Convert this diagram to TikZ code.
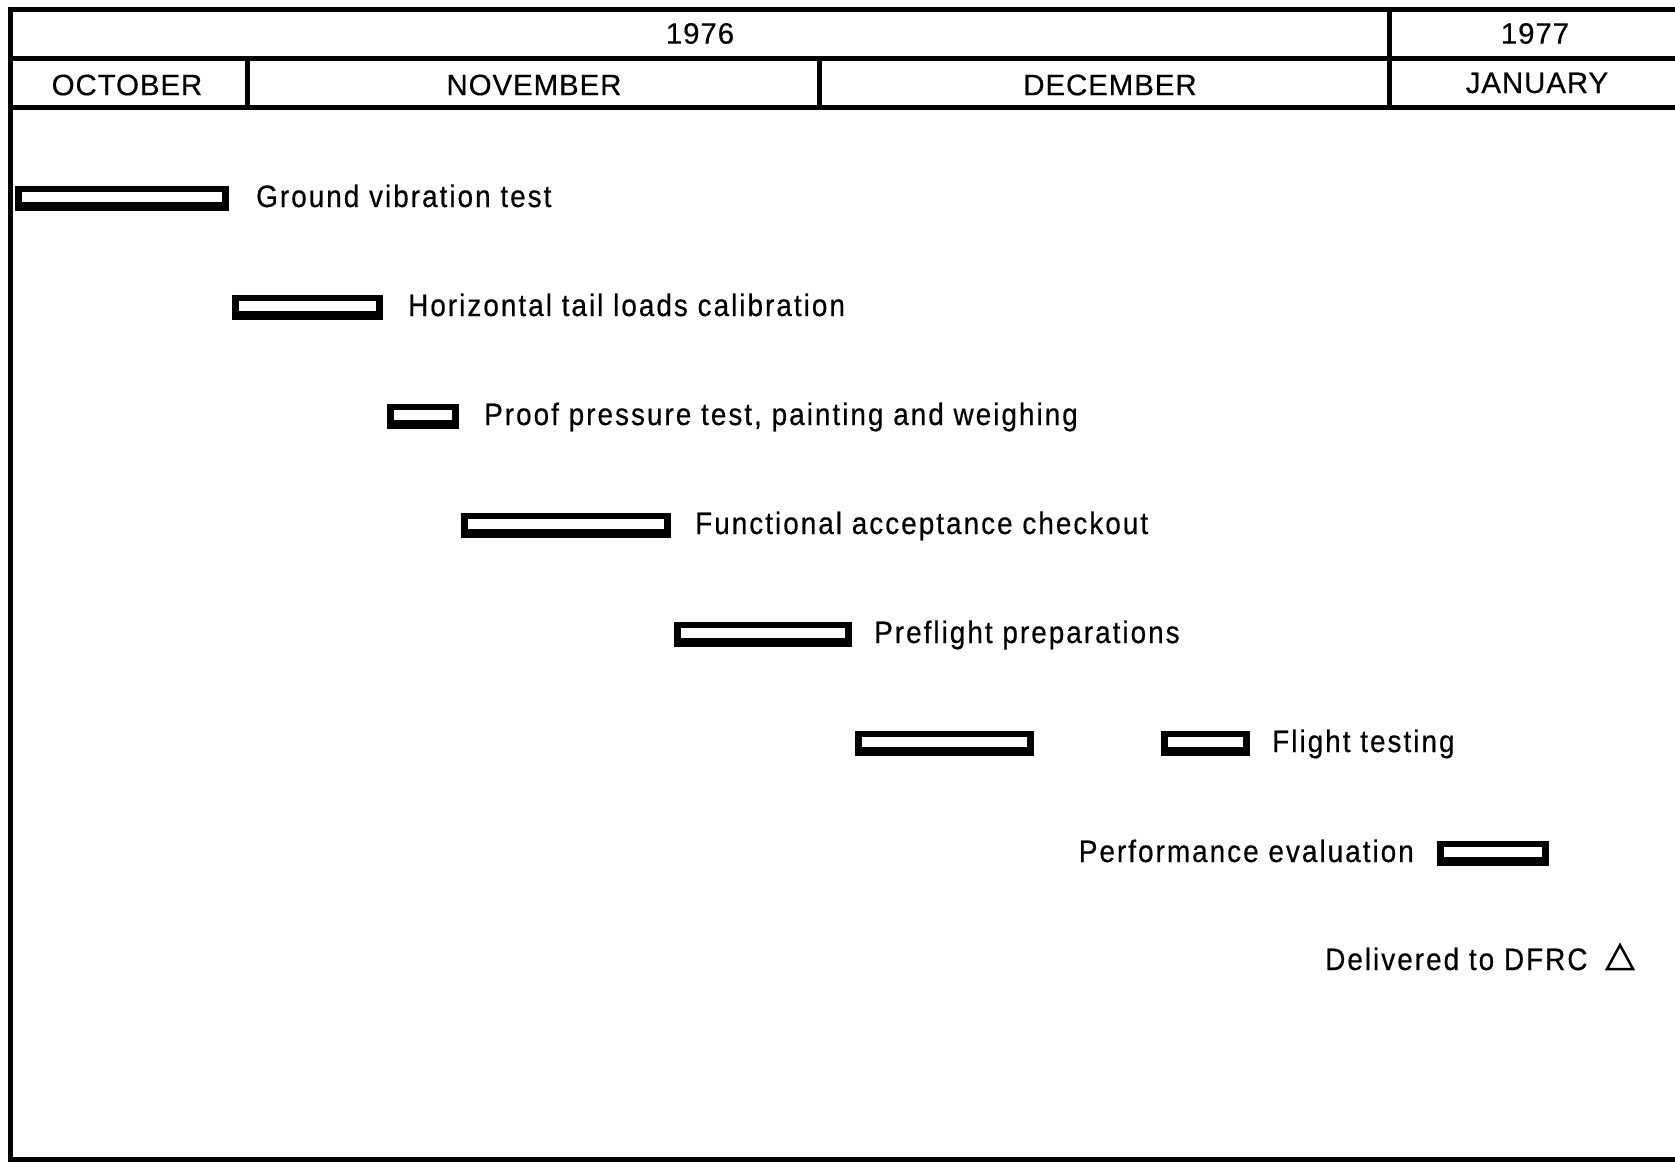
\documentclass[tikz,border=0pt]{standalone}
\usepackage{fontspec}
\setmainfont{Liberation Sans}
\newfontfamily\lblfont[LetterSpace=6.5,FakeStretch=0.9,FakeBold=0.5]{Liberation Sans}
\newfontfamily\hdrfont[LetterSpace=3,FakeBold=0.4]{Liberation Sans}
\begin{document}
\begin{tikzpicture}[x=1pt,y=-1pt,
  frame/.style={line width=5pt},
  hdr/.style={font=\hdrfont\fontsize{29.5}{36}\selectfont, inner sep=0pt},
  lbl/.style={font=\lblfont\fontsize{31}{37}\selectfont, inner sep=0pt},
  bar/.style={fill=black, inner sep=0pt, minimum height=25pt,
    path picture={\fill[white] ([xshift=7pt,yshift=9pt]path picture bounding box.south west) rectangle ([xshift=-7pt,yshift=-6pt]path picture bounding box.north east);}},
  milestone/.style={line width=2.5pt, line join=miter}
]
\useasboundingbox (0,0) rectangle (1675,1162);
% frame
\draw[frame] (10,7) -- (10,1161);
\draw[frame] (8,9) -- (1675,9);
\draw[frame] (8,58) -- (1675,58);
\draw[frame] (8,107) -- (1675,107);
\draw[frame] (8,1159) -- (1675,1159);
\draw[frame] (247,58) -- (247,107);
\draw[frame] (819,58) -- (819,107);
\draw[frame] (1389,9) -- (1389,107);
% headers
\node[hdr] (y76) at (700,33.5) {1976};
\node[hdr] (y77) at (1535,33.5) {1977};
\node[hdr] (oct) at (127,85) {OCTOBER};
\node[hdr] (nov) at (534,85) {NOVEMBER};
\node[hdr] (dec) at (1110,85) {DECEMBER};
\node[hdr] (jan) at (1537,83) {JANUARY};
% bars
\node[bar, minimum width=214pt] (b1) at (122,198) {};
\node[bar, minimum width=151pt] (b2) at (307.5,307) {};
\node[bar, minimum width=72pt] (b3) at (423,416) {};
\node[bar, minimum width=210pt] (b4) at (566,525) {};
\node[bar, minimum width=178pt] (b5) at (763,634.5) {};
\node[bar, minimum width=179pt] (b6a) at (944.5,743) {};
\node[bar, minimum width=89pt] (b6b) at (1205.5,743) {};
\node[bar, minimum width=112pt] (b7) at (1493,853) {};
% labels
\node[lbl, anchor=base west] (t1) at (256,207) {Ground vibration test};
\node[lbl, anchor=base west] (t2) at (408,316) {Horizontal tail loads calibration};
\node[lbl, anchor=base west] (t3) at (484,425) {Proof pressure test, painting and weighing};
\node[lbl, anchor=base west] (t4) at (695,534) {Functional acceptance checkout};
\node[lbl, anchor=base west] (t5) at (874,643) {Preflight preparations};
\node[lbl, anchor=base west] (t6) at (1272,752) {Flight testing};
\node[lbl, anchor=base east] (t7) at (1414,862) {Performance evaluation};
\node[lbl, anchor=base west] (t8) at (1325,970) {Delivered to DFRC};
\draw[milestone] (1607,969) -- (1633,969) -- (1620,945) -- cycle;
\end{tikzpicture}
\end{document}
